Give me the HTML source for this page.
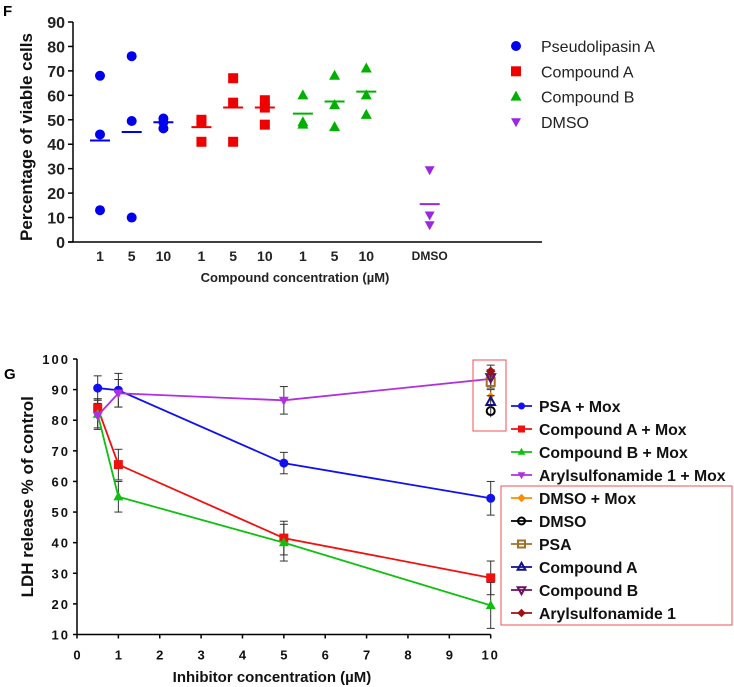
<!DOCTYPE html>
<html><head><meta charset="utf-8"><style>
html,body{margin:0;padding:0;background:#fff;}
svg{display:block;font-family:"Liberation Sans",Arial,sans-serif;}
</style></head><body>
<svg id="c" width="734" height="687" viewBox="0 0 734 687" xmlns="http://www.w3.org/2000/svg">
<text x="3" y="16" font-size="15" font-weight="bold">F</text>
<text x="4" y="379" font-size="15" font-weight="bold">G</text>
<g id="pf"></g>
<g id="pg"></g>
</svg>
<script>
// ---------- Panel F data ----------
const fGroups = ["Pseudolipasin A","Compound A","Compound B","DMSO"];
const fColors = ["#0000ee","#ee0000","#00b000","#9b27e0"];
const fCatLabels = ["1","5","10","1","5","10","1","5","10","DMSO"];
const fCatGroup = [0,0,0,1,1,1,2,2,2,3];
const fPoints = [[68,44,13],[76,49.5,10],[50.5,46.5,49],[50,49,41],[67,57,41],[58,48,55],[60,48,49],[68,56,47],[71,60,52],[29.5,11,7]];
const fMeans = [41.5,45,49,47,55,55,52.5,57.5,61.5,15.5];
const fTicks = [0,10,20,30,40,50,60,70,80,90];
const fCatX = [1,2,3,4.2,5.2,6.2,7.4,8.4,9.4,11.4];

// ---------- Panel G data ----------
const gSeries = ["PSA + Mox","Compound A + Mox","Compound B + Mox","Arylsulfonamide 1 + Mox"];
const gColors = ["#1010f0","#f01010","#10c010","#b030e0"];
const gX = [0.5,1,5,10];
const gPSA = [90.5,89.8,66,54.5];
const gCompA = [84,65.5,41.5,28.5];
const gCompB = [82,55,40,19.5];
const gAryl = [81.5,88.8,86.5,93.5];
const gErrPSA = [4,5.5,3.5,5.5];
const gErrCompA = [3,5,5.5,5.5];
const gErrCompB = [5,5,6,7.5];
const gErrAryl = [4,4.5,4.5,3];
const gCtrlNames = ["DMSO + Mox","DMSO","PSA","Compound A","Compound B","Arylsulfonamide 1"];
const gCtrlColors = ["#ff8c00","#000000","#a0702a","#10108a","#6a1060","#a01010"];
const gCtrlVals = [88,83,92.5,86,94,96];
const gYTicks = [10,20,30,40,50,60,70,80,90,100];
const gXTicks = [0,1,2,3,4,5,6,7,8,9,10];

const NS="http://www.w3.org/2000/svg";
function mk(parent,tag,attrs,name){const e=document.createElementNS(NS,tag);for(const k in attrs)e.setAttribute(k,attrs[k]);


parent.appendChild(e);return e;}

function marker(g,type,x,y,s,col,name,open){
  let e;
  if(type==="circle") e=mk(g,"circle",{cx:x,cy:y,r:s},name);
  else if(type==="square") e=mk(g,"rect",{x:x-s,y:y-s,width:2*s,height:2*s},name);
  else if(type==="tri") e=mk(g,"polygon",{points:`${x},${y-s*1.2} ${x-s*1.1},${y+s*0.8} ${x+s*1.1},${y+s*0.8}`},name);
  else if(type==="dtri") e=mk(g,"polygon",{points:`${x},${y+s*1.2} ${x-s*1.1},${y-s*0.8} ${x+s*1.1},${y-s*0.8}`},name);
  else if(type==="diamond") e=mk(g,"polygon",{points:`${x},${y-s*1.2} ${x+s*1.2},${y} ${x},${y+s*1.2} ${x-s*1.2},${y}`},name);
  if(open){e.setAttribute("fill","none");e.setAttribute("stroke",col);e.setAttribute("stroke-width","2");}
  else e.setAttribute("fill",col);
  return e;
}

// ---------- Panel F ----------
(function(){
  const g=document.getElementById("pf");
  const x0=73,x1=542,yTop=22,yBot=242;
  const ys=v=>yBot-(v/90)*(yBot-yTop);
  const xs=c=>100+(c-1)*31.7;
  mk(g,"line",{x1:x0,y1:yTop,x2:x0,y2:yBot,stroke:"#000","stroke-width":1.5},"y-axis");
  mk(g,"line",{x1:x0-5,y1:yBot,x2:x1,y2:yBot,stroke:"#000","stroke-width":1.5},"x-axis");
  fTicks.forEach(t=>{
    mk(g,"line",{x1:x0-5,y1:ys(t),x2:x0,y2:ys(t),stroke:"#000","stroke-width":1.5},"y-tick");
    const tx=mk(g,"text",{x:x0-8,y:ys(t)+6,"font-size":16,"font-weight":"bold","text-anchor":"end",fill:"#222"},"y-tick-label");tx.textContent=t;
  });
  const yt=mk(g,"text",{x:0,y:0,"font-size":17,"font-weight":"bold","text-anchor":"middle",transform:`translate(32,${(yTop+yBot)/2+5}) rotate(-90)`,fill:"#111"},"y-axis-title");
  yt.textContent="Percentage of viable cells";
  const shapes=["circle","square","tri","dtri"];
  const sizes=[5,5,5,4.5];
  fCatLabels.forEach((lab,i)=>{
    const cx=xs(fCatX[i]),gi=fCatGroup[i],col=fColors[gi];
    const tl=mk(g,"text",{x:cx,y:i===9?260:261,"font-size":i===9?12:14,"font-weight":"bold","text-anchor":"middle",fill:"#222"},"x-tick-label");tl.textContent=lab;
    fPoints[i].forEach(v=>marker(g,shapes[gi],cx,ys(v),sizes[gi],col,"data-point"));
    mk(g,"line",{x1:cx-10,y1:ys(fMeans[i]),x2:cx+10,y2:ys(fMeans[i]),stroke:col,"stroke-width":2},"mean-line");
  });
  const xt=mk(g,"text",{x:295,y:282,"font-size":13,"font-weight":"bold","text-anchor":"middle",fill:"#222"},"x-axis-title");
  xt.textContent="Compound concentration (µM)";
  fGroups.forEach((n,i)=>{
    const y=46+i*25.3;
    marker(g,shapes[i],516,y,sizes[i],fColors[i],"legend-marker");
    const t=mk(g,"text",{x:541,y:y+6,"font-size":16,fill:"#222"},"legend-entry");t.textContent=n;
  });
})();

// ---------- Panel G ----------
(function(){
  const g=document.getElementById("pg");
  const x0=77,yTop=359,yBot=634.5;
  const xs=v=>x0+v*41.37;
  const ys=v=>yBot-(v-10)/90*(yBot-yTop);
  mk(g,"line",{x1:x0,y1:yTop,x2:x0,y2:yBot,stroke:"#000","stroke-width":1.5},"y-axis");
  mk(g,"line",{x1:x0,y1:yBot,x2:xs(10),y2:yBot,stroke:"#000","stroke-width":1.5},"x-axis");
  gYTicks.forEach(t=>{
    mk(g,"line",{x1:x0-4,y1:ys(t),x2:x0,y2:ys(t),stroke:"#000","stroke-width":1.5},"y-tick");
    const tx=mk(g,"text",{x:x0-7,y:ys(t)+5,"font-size":13,"font-weight":"bold","text-anchor":"end","letter-spacing":"2",fill:"#111"},"y-tick-label");tx.textContent=t;
  });
  gXTicks.forEach(t=>{
    mk(g,"line",{x1:xs(t),y1:yBot,x2:xs(t),y2:yBot+4,stroke:"#000","stroke-width":1.5},"x-tick");
    const tx=mk(g,"text",{x:xs(t),y:yBot+25,"font-size":13,"font-weight":"bold","text-anchor":"middle","letter-spacing":t>=10?"2":"0",fill:"#111"},"x-tick-label");tx.textContent=t;
  });
  const yt=mk(g,"text",{x:0,y:0,"font-size":17,"font-weight":"bold","text-anchor":"middle",transform:`translate(33,${(yTop+yBot)/2}) rotate(-90)`,fill:"#111"},"y-axis-title");
  yt.textContent="LDH release % of control";
  const xt=mk(g,"text",{x:272,y:682,"font-size":15,"font-weight":"bold","text-anchor":"middle",fill:"#111"},"x-axis-title");
  xt.textContent="Inhibitor concentration (µM)";
  const data=[gPSA,gCompA,gCompB,gAryl],errs=[gErrPSA,gErrCompA,gErrCompB,gErrAryl];
  const shapes=["circle","square","tri","dtri"];
  data.forEach((d,s)=>{
    errs[s].forEach((e,i)=>{
      const x=xs(gX[i]);
      mk(g,"line",{x1:x,y1:ys(d[i]+e),x2:x,y2:ys(d[i]-e),stroke:"#333","stroke-width":1},"error-bar");
      mk(g,"line",{x1:x-4,y1:ys(d[i]+e),x2:x+4,y2:ys(d[i]+e),stroke:"#333","stroke-width":1},"error-cap");
      mk(g,"line",{x1:x-4,y1:ys(d[i]-e),x2:x+4,y2:ys(d[i]-e),stroke:"#333","stroke-width":1},"error-cap");
    });
  });
  data.forEach((d,s)=>{
    mk(g,"polyline",{points:d.map((v,i)=>xs(gX[i])+","+ys(v)).join(" "),fill:"none",stroke:gColors[s],"stroke-width":1.8},"series-line");
    d.forEach((v,i)=>marker(g,shapes[s],xs(gX[i]),ys(v),4.5,gColors[s],"series-point"));
  });
  const cShapes=["diamond","circle","square","tri","dtri","diamond"];
  const cOpen=[false,true,true,true,true,false];
  gCtrlVals.forEach((v,i)=>{
    const x=xs(10);
    mk(g,"line",{x1:x-4,y1:ys(v+2),x2:x+4,y2:ys(v+2),stroke:"#333","stroke-width":1},"error-cap");
    mk(g,"line",{x1:x,y1:ys(v+2),x2:x,y2:ys(v-2),stroke:"#333","stroke-width":1},"error-bar");
    marker(g,cShapes[i],x,ys(v),i===0?3:4,gCtrlColors[i],"control-point",cOpen[i]);
  });
  mk(g,"rect",{x:473,y:360,width:33,height:71,fill:"none",stroke:"#f05050","stroke-width":1},"control-highlight-box");
  mk(g,"rect",{x:501,y:486,width:231,height:139,fill:"none",stroke:"#f05050","stroke-width":1},"legend-control-box");
  const names=gSeries.concat(gCtrlNames),cols=gColors.concat(gCtrlColors);
  const ms=shapes.concat(cShapes),op=[false,false,false,false].concat(cOpen);
  names.forEach((n,i)=>{
    const y=406+i*23;
    mk(g,"line",{x1:511,y1:y,x2:532,y2:y,stroke:cols[i],"stroke-width":1.8},"legend-line");
    marker(g,ms[i],521.5,y,3.5,cols[i],"legend-marker",op[i]);
    const t=mk(g,"text",{x:539,y:y+6,"font-size":15.8,"font-weight":"bold",fill:"#111"},"legend-entry");t.textContent=n;
  });
})();
</script>
</body></html>
